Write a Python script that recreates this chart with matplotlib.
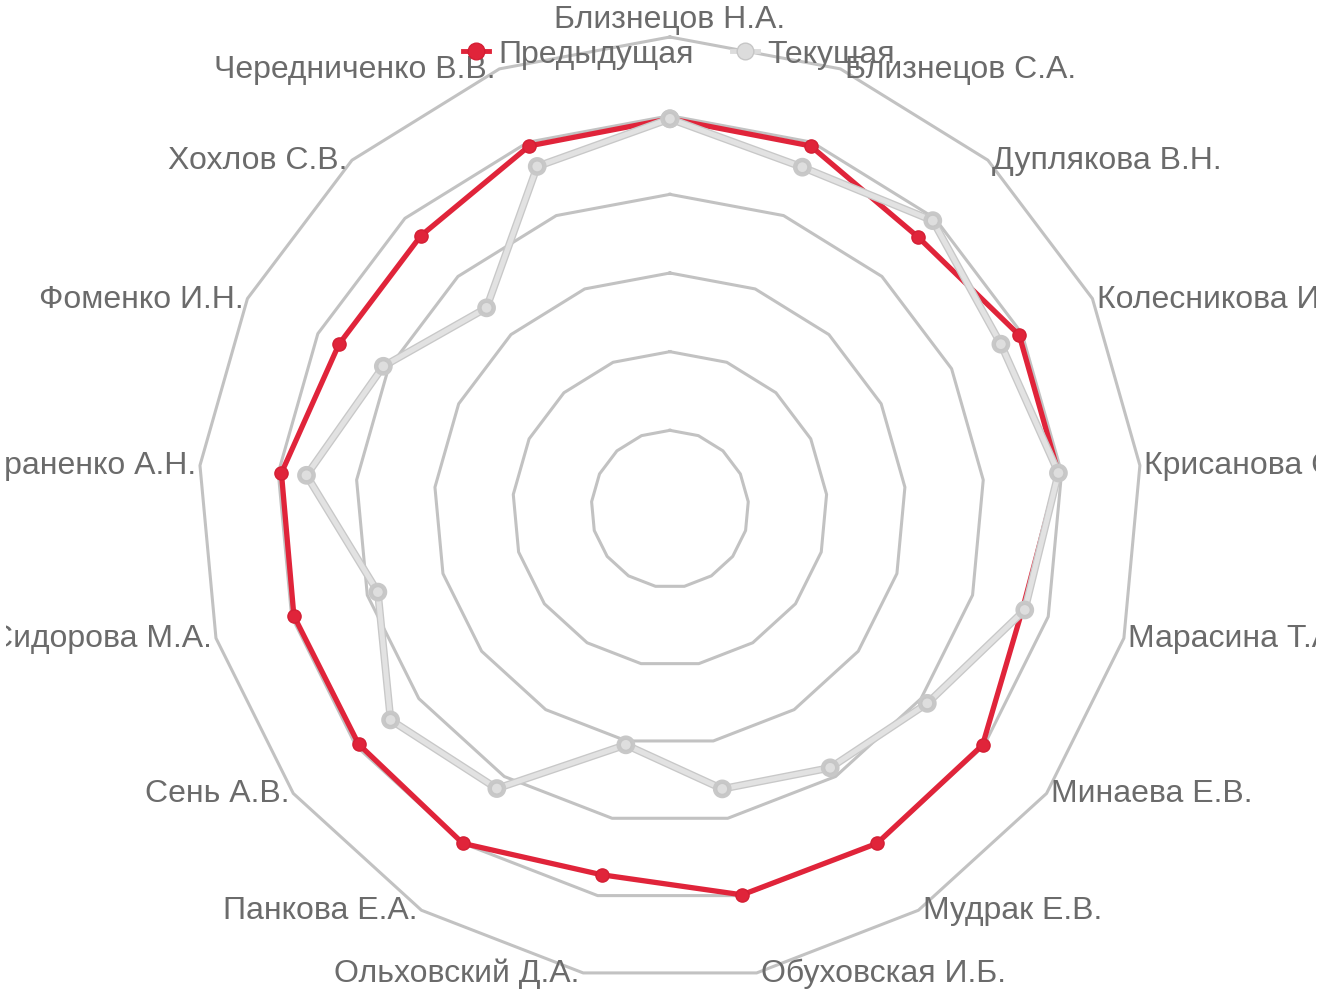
import numpy as np
import matplotlib
matplotlib.use('Agg')
import matplotlib.pyplot as plt
import matplotlib.patheffects as pe
from matplotlib.lines import Line2D
from matplotlib.transforms import Bbox, TransformedBbox

plt.rcParams['font.family'] = ['Liberation Sans', 'DejaVu Sans']

names = ['Близнецов Н.А.', 'Близнецов С.А.', 'Дуплякова В.Н.', 'Колесникова И.В.',
         'Крисанова С.А.', 'Марасина Т.А.', 'Минаева Е.В.', 'Мудрак Е.В.',
         'Обуховская И.Б.', 'Ольховский Д.А.', 'Панкова Е.А.', 'Сень А.В.',
         'Сидорова М.А.', 'Тараненко А.Н.', 'Фоменко И.Н.', 'Хохлов С.В.',
         'Чередниченко В.В.']
prev = [4.96, 4.95, 4.68, 4.96, 4.96, 4.66, 4.98, 5.0, 4.99, 4.73,
        5.0, 4.96, 4.97, 4.96, 4.70, 4.70, 4.95]
curr = [4.96, 4.66, 4.96, 4.70, 4.96, 4.69, 4.10, 3.87, 3.62, 3.05,
        4.18, 4.45, 3.86, 4.64, 4.07, 3.46, 4.67]
rings = [1, 2, 3, 4, 5, 6]

n = len(names)
theta = np.linspace(0, 2 * np.pi, n, endpoint=False)
th_c = np.append(theta, theta[0])

fig = plt.figure(figsize=(13.32, 9.95), dpi=100)
ax = fig.add_axes([0.1486, 0.0131, 0.7087, 0.9487], projection='polar')
ax.set_theta_zero_location('N')
ax.set_theta_direction(-1)
ax.set_ylim(0, 6)
ax.grid(False)
ax.set_xticks([])
ax.set_yticks([])
ax.spines['polar'].set_visible(False)

# polygon grid
for k in rings:
    ax.plot(th_c, [k] * (n + 1), color='#c2c2c2', lw=2.2, clip_on=False, zorder=1)

red = '#e0243a'
ax.plot(th_c, prev + prev[:1], color=red, lw=3.8, marker='o', ms=9.5,
        mfc=red, mec='#d41f34', mew=1, zorder=3, clip_on=False)
ax.plot(th_c, curr + curr[:1], color='#e2e2e2', lw=3.6, marker='o', ms=8,
        mfc='#dedede', mec='#c6c6c6', mew=1, zorder=4, clip_on=False,
        path_effects=[pe.Stroke(linewidth=5.5, foreground='#c8c8c8'), pe.Normal()])

# the labels are cut at the canvas edges like in the original chart
clip = TransformedBbox(Bbox([[6 / 1332, 0], [1316 / 1332, 1]]), fig.transFigure)

for i, (t, name) in enumerate(zip(theta, names)):
    s = np.sin(t)
    if i == 0:
        ha, va, off = 'center', 'bottom', (0, 2)
    else:
        ha = 'left' if s > 0 else 'right'
        va = 'center'
        off = (3 if s > 0 else -3, 0)
    txt = ax.annotate(name, xy=(t, 6), xytext=off, textcoords='offset points',
                      ha=ha, va=va, fontsize=23, color='#6b6b6b', annotation_clip=False)
    txt.set_clip_on(True)
    txt.set_clip_box(clip)

handles = [
    Line2D([], [], color=red, lw=3.5, marker='o', ms=12, mfc=red, mec='#d41f34'),
    Line2D([], [], color='#dcdcdc', lw=3.5, marker='o', ms=12, mfc='#dcdcdc', mec='#c6c6c6'),
]
fig.legend(handles, ['Предыдущая', 'Текущая'], loc='center', ncol=2,
           bbox_to_anchor=(0.51, 1 - 55 / 995), frameon=False, fontsize=23,
           labelcolor='#6b6b6b', handlelength=0.8, handletextpad=0.3,
           columnspacing=1.2)

fig.savefig('out.png', dpi=100)
